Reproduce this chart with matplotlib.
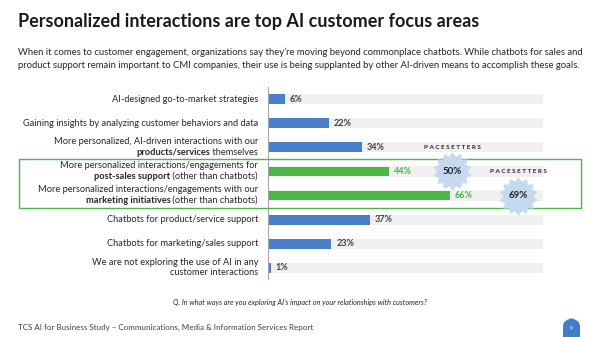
import matplotlib.pyplot as plt
import matplotlib.transforms as mtransforms
from matplotlib.patches import Rectangle, FancyBboxPatch
from matplotlib.path import Path
import numpy as np

plt.rcParams['font.family'] = ['Lato', 'DejaVu Sans']

title = "Personalized interactions are top AI customer focus areas"
subtitle = ("When it comes to customer engagement, organizations say they\u2019re moving beyond commonplace chatbots. While chatbots for sales and\n"
            "product support remain important to CMI companies, their use is being supplanted by other AI-driven means to accomplish these goals.")
categories = [
    "AI-designed go-to-market strategies",
    "Gaining insights by analyzing customer behaviors and data",
    "More personalized, AI-driven interactions with our\n**products/services** themselves",
    "More personalized interactions/engagements for\n**post-sales support** (other than chatbots)",
    "More personalized interactions/engagements with our\n**marketing initiatives** (other than chatbots)",
    "Chatbots for product/service support",
    "Chatbots for marketing/sales support",
    "We are not exploring the use of AI in any\ncustomer interactions",
]
values = [6, 22, 34, 44, 66, 37, 23, 1]
highlight = [False, False, False, True, True, False, False, False]
pacesetter_rows = [3, 4]
pacesetter_values = [50, 69]
pacesetter_x = [67, 91]
question = "Q. In what ways are you exploring AI\u2019s impact on your relationships with customers?"
footer = "TCS AI for Business Study \u2013 Communications, Media & Information Services Report"
page = "9"

BLUE = '#4a7ec8'
GREEN = '#4cb648'
DARK = '#262626'

fig = plt.figure(figsize=(6, 3.37), dpi=100)
ax = fig.add_axes([268 / 600, 1 - 280 / 337, 275 / 600, 193 / 337])
y = np.arange(len(values))
colors = [GREEN if h else BLUE for h in highlight]

ax.barh(y, [100] * len(values), height=0.42, color='#f0f0f0', zorder=1)
ax.barh(y, values, height=0.40, color=colors, zorder=2)
ax.set_xlim(0, 100)
ax.set_ylim(len(values) - 0.5, -0.5)
ax.axis('off')
ax.axvline(0, color='#a6a6a6', lw=0.8, zorder=3)

def px(dx, dy):
    return ax.transData + mtransforms.ScaledTranslation(dx / 100, -dy / 100, fig.dpi_scale_trans)

for i, v in enumerate(values):
    ax.text(v, i, f"{v}%", transform=px(5, 0), ha='left', va='center',
            fontsize=6.5, fontweight='bold', color=GREEN if highlight[i] else '#404040')

# category labels with mixed bold segments
renderer = fig.canvas.get_renderer()
for i, lab in enumerate(categories):
    lines = lab.split('\n')
    n = len(lines)
    for j, line in enumerate(lines):
        dy = (j - (n - 1) / 2) * 10.5 - (0.5 if n > 1 else 0)
        xoff = -10
        segs = line.split('**')
        for k in range(len(segs) - 1, -1, -1):
            s = segs[k]
            if not s:
                continue
            t = ax.text(0, i, s, transform=px(xoff, dy), ha='right', va='center',
                        fontsize=6.7, color=DARK, fontweight='bold' if k % 2 else 'normal')
            xoff -= t.get_window_extent(renderer).width

# green highlight box around highlighted rows
rows = [i for i, h in enumerate(highlight) if h]
bt = mtransforms.blended_transform_factory(fig.transFigure, ax.transData)
ax.add_patch(Rectangle((19 / 600, min(rows) - 0.5), 562 / 600, len(rows),
                       transform=bt, fill=False, ec=GREEN, lw=1.0, clip_on=False, zorder=4))

# pacesetter starbursts
n = 14
ang = np.linspace(np.pi / 2, np.pi / 2 + 2 * np.pi, 2 * n + 1)
rad = np.where(np.arange(2 * n + 1) % 2 == 0, 1.0, 0.78)
star = Path(np.column_stack([rad * np.cos(ang), rad * np.sin(ang)]), closed=True)
ax.scatter(pacesetter_x, pacesetter_rows, s=28 ** 2, marker=star, color='#c6d9ef',
           lw=0, zorder=5, clip_on=False)
for xx, r, v in zip(pacesetter_x, pacesetter_rows, pacesetter_values):
    ax.text(xx, r, f"{v}%", ha='center', va='center', fontsize=7, fontweight='bold',
            color='#1f1f1f', zorder=6)
    ax.text(xx, r - 1, " ".join("PACESETTERS"), ha='center', va='center', fontsize=4.6,
            fontweight='bold', color='#262626', zorder=6)

fig.text(18 / 600, 1 - 22 / 337, title, fontsize=13.0, fontweight='bold', color='#1a1a1a',
         ha='left', va='center')
fig.text(18 / 600, 1 - 59 / 337, subtitle, fontsize=6.85, color=DARK, ha='left', va='center',
         linespacing=1.65)
fig.text(300 / 600, 1 - 302 / 337, question, fontsize=5.2, style='italic', color=DARK,
         ha='center', va='center')
fig.text(18 / 600, 1 - 327 / 337, footer, fontsize=5.8, color='#404040', ha='left', va='center')
fig.patches.append(FancyBboxPatch((563 / 600, -0.05), 17 / 600, 1 / 337 * 19 + 0.05,
                                  boxstyle='round,pad=0,rounding_size=0.025',
                                  transform=fig.transFigure, fc='#3f7fc7', ec='none'))
fig.text(571.5 / 600, 1 - 328 / 337, page, fontsize=4, color='white', ha='center', va='center')

fig.savefig('out.png', dpi=100)
